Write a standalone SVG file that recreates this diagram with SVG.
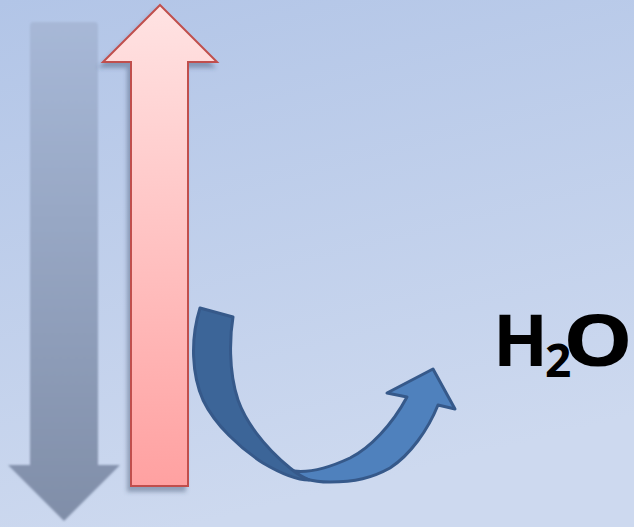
<svg xmlns="http://www.w3.org/2000/svg" width="634" height="527" viewBox="0 0 634 527">
  <defs>
    <linearGradient id="bg" x1="0" y1="0" x2="0.3" y2="1">
      <stop offset="0" stop-color="#b2c5e7"/>
      <stop offset="1" stop-color="#cdd9ef"/>
    </linearGradient>
    <linearGradient id="grayFill" x1="0" y1="0" x2="0" y2="1">
      <stop offset="0" stop-color="#a7b8d7"/>
      <stop offset="1" stop-color="#808ea8"/>
    </linearGradient>
    <linearGradient id="redFill" x1="0" y1="0" x2="0" y2="1">
      <stop offset="0" stop-color="#ffe3e3"/>
      <stop offset="1" stop-color="#ffa1a1"/>
    </linearGradient>
    <filter id="soft" x="-20%" y="-10%" width="140%" height="120%">
      <feGaussianBlur in="SourceGraphic" stdDeviation="1"/>
    </filter>
    <filter id="shadow" x="-20%" y="-10%" width="140%" height="120%">
      <feDropShadow dx="-3" dy="5" stdDeviation="2" flood-color="#3a4a66" flood-opacity="0.4"/>
    </filter>
    <style>
      .curveStroke { stroke: #36598a; stroke-width: 3; stroke-linejoin: round; }
      .h2o { font-family: "Open Sans", "Liberation Sans", sans-serif; font-weight: bold; fill: #000000; }
    </style>
  </defs>

  <rect x="0" y="0" width="634" height="527" fill="url(#bg)"/>

  <g id="gray-arrow" filter="url(#soft)">
    <path d="M33 22 H95 Q98 22 98 26 V465 H120 L64 521 L8 465 H30 V26 Q30 22 33 22 Z" fill="url(#grayFill)"/>
  </g>

  <g id="red-arrow" filter="url(#shadow)">
    <path d="M160 5 L217 62 H188 V486 H131 V62 H103 Z" fill="url(#redFill)" stroke="#c0504d" stroke-width="2" stroke-linejoin="miter"/>
  </g>

  <g id="curved-arrow">
    <path class="curveStroke" fill="#4f81bd"
      d="M288 470 C300 473 320 472 350 458 C370 448 392 425 407 397 L387 393 L433 369 L455 409 L438 405 C428 430 410 455 390 468 C372 478 355 482 330 482 C315 482 300 480 288 470 Z"/>
    <path class="curveStroke" fill="#3c6598"
      d="M200 308 L233 317 C230 335 228 370 238 400 C245 420 262 445 290 468 C296 473 302 477 309 480 C300 480 285 476 263 463 C240 448 215 425 203 400 C192 375 190 340 200 308 Z"/>
  </g>

  <g id="h2o-label">
    <text class="h2o" y="366" font-size="72"><tspan x="493">H</tspan><tspan x="545" y="377" font-size="46">2</tspan></text>
    <text class="h2o" font-size="72" transform="translate(563 366) scale(1.22 1)">O</text>
  </g>
</svg>
